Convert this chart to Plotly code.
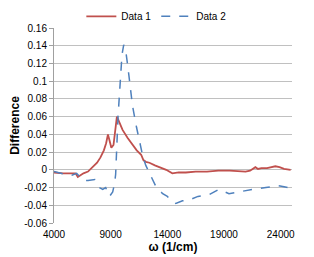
import plotly.graph_objects as go

# Data 1 (red solid)
omega1 = [4000, 4800, 5600, 5900, 6100, 6300, 6600, 7000, 7400, 7800, 8100, 8400, 8600, 8760,
          8900, 9060, 9250, 9400, 9550, 9750, 10050, 10500, 10930, 11300, 11690, 11890, 12100,
          12420, 12900, 13300, 13900, 14440, 15000, 15630, 16500, 17500, 18500, 19500, 20300,
          20900, 21300, 21600, 21770, 22000, 22300, 22800, 23200, 23530, 23900, 24300, 24880]
diff1 = [-0.003, -0.004, -0.004, -0.004, -0.008, -0.006, -0.004, -0.002, 0.003, 0.008, 0.014,
         0.022, 0.030, 0.040, 0.033, 0.025, 0.028, 0.045, 0.060, 0.054, 0.045, 0.036, 0.028,
         0.022, 0.017, 0.011, 0.009, 0.008, 0.005, 0.003, 0.000, -0.004, -0.003, -0.003, -0.002,
         -0.002, -0.001, -0.001, -0.002, -0.002, -0.001, 0.001, 0.003, 0.001, 0.002, 0.002,
         0.003, 0.004, 0.003, 0.001, 0.000]

# Data 2 (blue dashed)
omega2 = [4000, 4500, 4960, 5580, 6000, 6280, 6550, 7000, 7600, 8000, 8300, 8560, 8750, 8900,
          9180, 9350, 9440, 9530, 9650, 9800, 10000, 10150, 10320, 10500, 10670, 10930, 11280,
          11600, 11840, 12100, 12420, 13000, 13590, 14000, 14460, 14750, 15340, 15930, 16700,
          17700, 18560, 19440, 20310, 21500, 22700, 23820, 24300, 24900]
diff2 = [-0.002, -0.004, -0.005, -0.006, -0.004, -0.008, -0.012, -0.012, -0.011, -0.020, -0.022,
         -0.020, -0.026, -0.030, -0.025, -0.015, -0.005, 0.030, 0.060, 0.090, 0.130, 0.141,
         0.135, 0.118, 0.100, 0.072, 0.048, 0.030, 0.015, 0.005, -0.004, -0.019, -0.027,
         -0.030, -0.036, -0.038, -0.035, -0.034, -0.030, -0.028, -0.022, -0.027, -0.025,
         -0.022, -0.020, -0.018, -0.019, -0.021]

x_ticks = [4000, 9000, 14000, 19000, 24000]
x_labels = ["4000", "9000", "14000", "19000", "24000"]
y_ticks = [0.16, 0.14, 0.12, 0.1, 0.08, 0.06, 0.04, 0.02, 0, -0.02, -0.04, -0.06]
y_labels = ["0.16", "0.14", "0.12", "0.1", "0.08", "0.06", "0.04", "0.02", "0",
            "-0.02", "-0.04", "-0.06"]

font = "Liberation Sans, Arial, sans-serif"

fig = go.Figure()
fig.add_trace(go.Scatter(x=omega1, y=diff1, mode="lines", name="Data 1",
                         line=dict(color="#c0504d", width=1.8)))
fig.add_trace(go.Scatter(x=omega2, y=diff2, mode="lines", name="Data 2",
                         line=dict(color="#4f81bd", width=1.5, dash="dash")))

fig.update_layout(
    width=306, height=249,
    margin=dict(l=46, r=22, t=20, b=34, autoexpand=False),
    paper_bgcolor="white", plot_bgcolor="white",
    font=dict(family=font, size=10, color="#000000"),
    showlegend=True,
    legend=dict(orientation="h", x=0.43, xanchor="center", y=1.06, yanchor="middle",
                font=dict(size=10), itemwidth=30, tracegroupgap=0,
                bgcolor="rgba(0,0,0,0)"),
    xaxis=dict(range=[4000, 25000], tickvals=x_ticks, ticktext=x_labels,
               showgrid=False, zeroline=False,
               showline=False, ticks="", tickfont=dict(size=10), ticklabelstandoff=4,
               title=dict(text="<b>ω (1/cm)</b>", font=dict(size=12), standoff=0)),
    yaxis=dict(range=[-0.06, 0.16], tickvals=y_ticks, ticktext=y_labels,
               showgrid=True, gridcolor="#c0c0c0", gridwidth=1.2, zeroline=False,
               showline=True, linecolor="#a0a0a0", linewidth=1,
               ticks="outside", ticklen=4, tickcolor="#a0a0a0", tickwidth=1,
               tickfont=dict(size=10),
               title=dict(text="<b>Difference</b>", font=dict(size=12), standoff=6)),
)

fig.write_html("out.html")
